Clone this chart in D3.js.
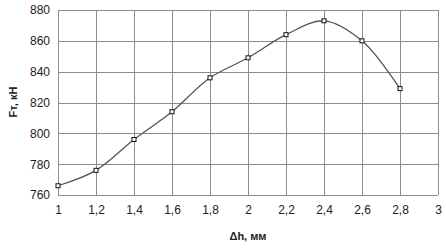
<!DOCTYPE html>
<html>
<head>
<meta charset="utf-8">
<script src="https://cdn.jsdelivr.net/npm/d3@7"></script>
<style>
  body { margin: 0; background: #fff; }
  text { font-family: "Liberation Sans", Arial, sans-serif; fill: #222; }
</style>
</head>
<body>
<script>
const dh = [1, 1.2, 1.4, 1.6, 1.8, 2, 2.2, 2.4, 2.6, 2.8];
const ft = [766, 776, 796, 814, 836, 849, 864, 873, 860, 829];
const xTicks = [1, 1.2, 1.4, 1.6, 1.8, 2, 2.2, 2.4, 2.6, 2.8, 3];
const yTicks = [760, 780, 800, 820, 840, 860, 880];

const svgWidth = 446;
const svgHeight = 250;

const svg = d3.select('body')
              .append('svg')
              .attr('width', svgWidth)
              .attr('height', svgHeight);

const x = d3.scaleLinear().domain([1, 3]).range([58, 438]);
const y = d3.scaleLinear().domain([760, 880]).range([195, 10]);

const fmt = d => String(+d.toFixed(1)).replace('.', ',');

// grid
svg.append('g')
   .selectAll('line')
   .data(yTicks)
   .enter()
   .append('line')
   .attr('x1', x(1)).attr('x2', x(3))
   .attr('y1', d => Math.round(y(d)) + 0.5)
   .attr('y2', d => Math.round(y(d)) + 0.5)
   .attr('stroke', '#8c8c8c');

svg.append('g')
   .selectAll('line')
   .data(xTicks)
   .enter()
   .append('line')
   .attr('y1', y(760)).attr('y2', y(880))
   .attr('x1', d => Math.round(x(d)) + 0.5)
   .attr('x2', d => Math.round(x(d)) + 0.5)
   .attr('stroke', '#8c8c8c');

// axes labels
const yAxis = svg.append('g')
   .attr('transform', 'translate(50,0)')
   .call(d3.axisLeft(y).tickValues(yTicks).tickSize(0).tickPadding(0));
yAxis.select('.domain').remove();
yAxis.selectAll('text').style('font-size', '12px').attr('fill', '#222');

const xAxis = svg.append('g')
   .attr('transform', 'translate(0,' + 205 + ')')
   .call(d3.axisBottom(x).tickValues(xTicks).tickFormat(fmt).tickSize(0).tickPadding(0));
xAxis.select('.domain').remove();
xAxis.selectAll('text').style('font-size', '12px').attr('fill', '#222');

svg.append('text')
   .attr('x', x(2))
   .attr('y', 240)
   .attr('text-anchor', 'middle')
   .style('font-size', '11px')
   .style('font-weight', 'bold')
   .text('Δh, мм');

svg.append('text')
   .attr('transform', 'translate(17,102) rotate(-90)')
   .attr('text-anchor', 'middle')
   .style('font-size', '11px')
   .style('font-weight', 'bold')
   .text('Fт, кН');

// line
const pts = dh.map((d, i) => [d, ft[i]]);
const line = d3.line()
               .x(d => x(d[0]))
               .y(d => y(d[1]))
               .curve(d3.curveCatmullRom.alpha(0.5));

svg.append('path')
   .attr('d', line(pts))
   .attr('fill', 'none')
   .attr('stroke', '#555')
   .attr('stroke-width', 1.3);

svg.append('g')
   .selectAll('rect')
   .data(pts)
   .enter()
   .append('rect')
   .attr('x', d => x(d[0]) - 2)
   .attr('y', d => y(d[1]) - 2)
   .attr('width', 4)
   .attr('height', 4)
   .attr('fill', '#fff')
   .attr('stroke', '#111')
   .attr('stroke-width', 1);
</script>
</body>
</html>
